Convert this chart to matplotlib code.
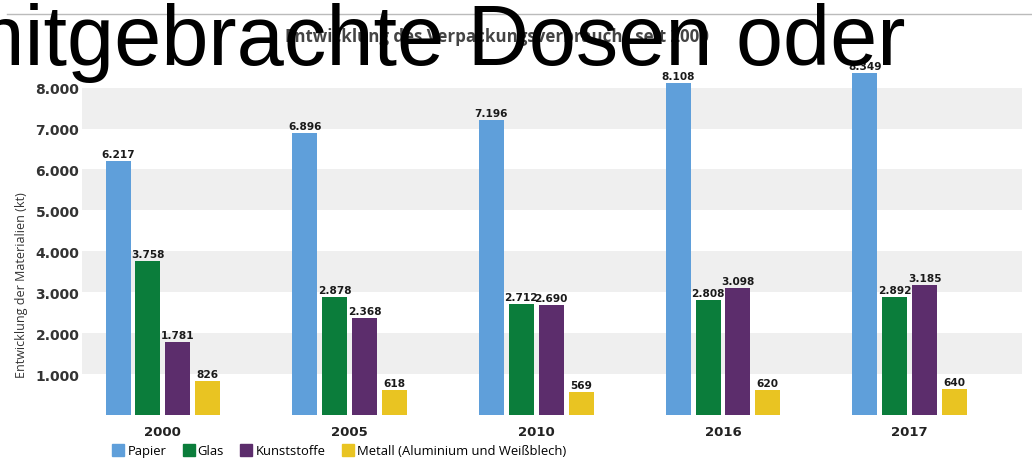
import matplotlib.pyplot as plt
from matplotlib.lines import Line2D
import numpy as np

# Daten: Verpackungsverbrauch in kt
jahre = ['2000', '2005', '2010', '2016', '2017']
papier = [6217, 6896, 7196, 8108, 8349]
glas = [3758, 2878, 2712, 2808, 2892]
kunststoffe = [1781, 2368, 2690, 3098, 3185]
metall = [826, 618, 569, 620, 640]

serien = ['Papier', 'Glas', 'Kunststoffe', 'Metall (Aluminium und Weißblech)']
farben = ['#5f9fda', '#0b7d3b', '#5c2d6c', '#e9c422']
werte = [papier, glas, kunststoffe, metall]

plt.rcParams['font.family'] = ['DejaVu Sans']

fig = plt.figure(figsize=(10.32, 4.6), dpi=100)
ax = fig.add_axes([0.0795, 0.0957, 0.9105, 0.774])

x = np.arange(len(jahre))
schritt = 0.16
breite = 0.134

# graue Bänder im Hintergrund
for unten in [1000, 3000, 5000, 7000]:
    ax.axhspan(unten, unten + 1000, color='#efefef', zorder=0, lw=0)

for i, (name, farbe, w) in enumerate(zip(serien, farben, werte)):
    pos = x + (i - 1.5) * schritt
    ax.bar(pos, w, width=breite, color=farbe, zorder=2, label=name)
    for p, v in zip(pos, w):
        txt = f'{v:,}'.replace(',', '.')
        ax.text(p, v + 50, txt, ha='center', va='bottom', fontsize=7.6,
                fontweight='bold', color='#1a1a1a', zorder=3)

ax.set_xlim(-0.433, 4.6)
ax.set_ylim(0, 8700)
ax.set_yticks([1000, 2000, 3000, 4000, 5000, 6000, 7000, 8000])
ax.set_yticklabels([f'{t:,}'.replace(',', '.') for t in ax.get_yticks()],
                   fontsize=10, fontweight='bold', color='#333333')
ax.set_xticks(x)
ax.set_xticklabels(jahre, fontsize=9.5, fontweight='bold', color='#222222')
ax.tick_params(length=0)
ax.tick_params(axis='x', pad=7)
ax.tick_params(axis='y', pad=2)
for s in ax.spines.values():
    s.set_visible(False)
ax.set_ylabel('Entwicklung der Materialien (kt)', fontsize=9, color='#333333',
              family=['Open Sans', 'DejaVu Sans'])
ax.yaxis.set_label_coords(-0.058, 0.368)

# Legende
griffe = [Line2D([], [], marker='s', ls='', color=f, markersize=8) for f in farben]
fig.legend(griffe, serien, loc='lower left', bbox_to_anchor=(0.097, -0.022), ncol=4,
           frameon=False, handletextpad=0.2, columnspacing=1.2, handlelength=1.0,
           prop={'family': ['Open Sans', 'DejaVu Sans'], 'size': 9.4})

# Titel und Linie oben
fig.add_artist(Line2D([0.007, 1.0], [1 - 15 / 460, 1 - 15 / 460], color='#bbbbbb', lw=1))
fig.text(0.482, 1 - 37 / 460, 'Entwicklung des Verpackungsverbrauchs seit 2000', ha='center',
         va='center', fontsize=12.2, fontweight='bold', color='#444444',
         family=['Open Sans', 'DejaVu Sans'])

# überlagerter Text
fig.text(905 / 1032, 1 - 65 / 460, 'mitgebrachte Dosen oder', ha='right', va='baseline',
         fontsize=61, color='black', family=['Liberation Sans', 'DejaVu Sans'])

fig.savefig('out.png', dpi=100)
